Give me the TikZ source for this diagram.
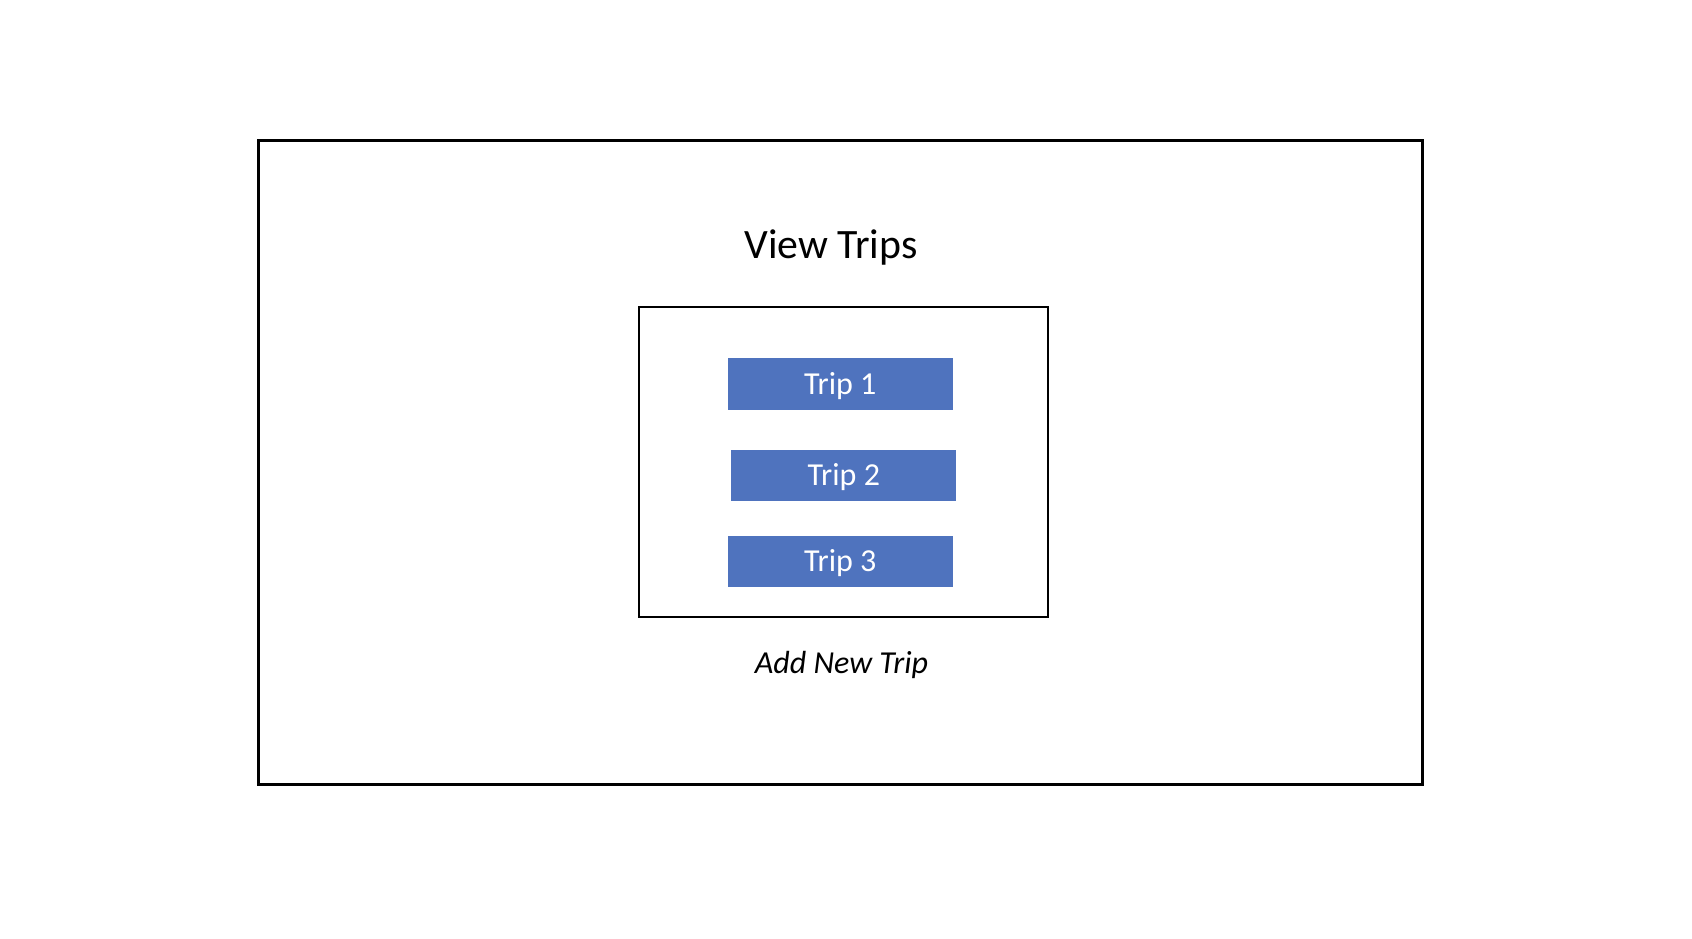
\documentclass[tikz,border=0pt]{standalone}
\usepackage{fontspec}
\setmainfont{Carlito}
\definecolor{tripblue}{RGB}{79,115,190}
\begin{document}
\begin{tikzpicture}[x=0.5pt,y=-0.5pt,
    tripbox/.style={fill=tripblue,text=white,inner sep=0pt,minimum width=112.4pt,minimum height=25.9pt,
        text height=10.3pt,text depth=0pt,font=\fontsize{16}{19}\selectfont},
    listbox/.style={draw,line width=1pt,inner sep=0pt,minimum width=204.5pt,minimum height=155pt}]
    \useasboundingbox (0,0) rectangle (1692,938);
    \draw[line width=1.5pt] (258.7,140.7) rectangle (1422,784);

    \node[anchor=base,font=\fontsize{20.9}{24}\selectfont] (title) at (831,258.3) {View Trips};
    \node[listbox] (list) at (843.2,461.7) {};

    \node[tripbox] (trip1) at (840.3,384) {Trip 1};
    \node[tripbox] (trip2) at (843.8,475.5) {Trip 2};
    \node[tripbox] (trip3) at (840.3,561.5) {Trip 3};

    \node[anchor=base,font=\fontsize{16}{19}\selectfont\itshape] (add) at (841.5,673.3) {Add New Trip};
\end{tikzpicture}
\end{document}
